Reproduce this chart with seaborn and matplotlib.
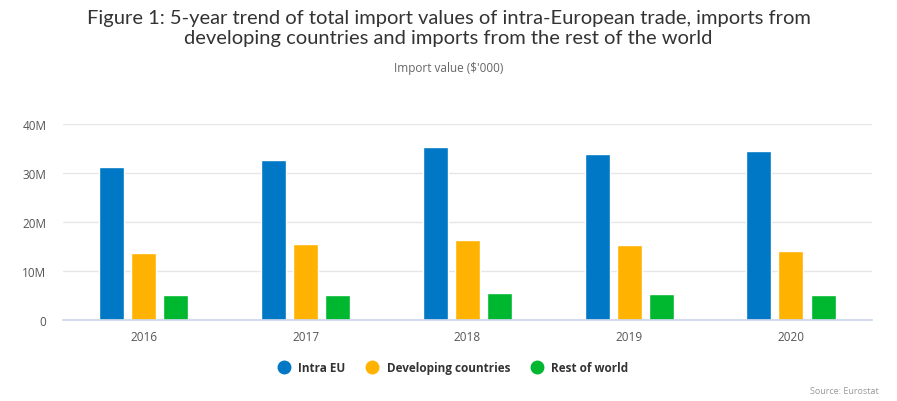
import pandas as pd
import matplotlib.pyplot as plt
import seaborn as sns
from matplotlib.ticker import FuncFormatter
from matplotlib.lines import Line2D

# === Data (in $'000) ===
years = ["2016", "2017", "2018", "2019", "2020"]
intra_eu = [31.2e6, 32.7e6, 35.3e6, 33.9e6, 34.5e6]
developing = [13.6e6, 15.5e6, 16.3e6, 15.3e6, 14.0e6]
rest_of_world = [5.05e6, 5.1e6, 5.5e6, 5.3e6, 5.05e6]

series_names = ["Intra EU", "Developing countries", "Rest of world"]
colors = ["#0078C5", "#FFB300", "#00B830"]

df = pd.DataFrame({
    "Year": years * 3,
    "Series": [series_names[0]] * 5 + [series_names[1]] * 5 + [series_names[2]] * 5,
    "Value": intra_eu + developing + rest_of_world,
})

sns.set_theme(style="white")
plt.rcParams["font.family"] = ["Open Sans", "DejaVu Sans"]

fig = plt.figure(figsize=(8.97, 4.02), dpi=100)
ax = fig.add_axes([0.0702, 0.2015, 0.9018, 0.4875])

sns.barplot(
    data=df, x="Year", y="Value", hue="Series",
    palette=colors, width=0.594, gap=0.22,
    saturation=1, ax=ax, legend=False,
)

ax.set_ylim(0, 40e6)
ax.set_xlim(-0.5, 4.5)
ax.set_yticks([0, 10e6, 20e6, 30e6, 40e6])
ax.yaxis.set_major_formatter(FuncFormatter(lambda v, p: "0" if v == 0 else f"{int(v / 1e6)}M"))
ax.grid(axis="y", color="#e6e6e6", linewidth=1)
ax.set_axisbelow(True)
for side in ["top", "right", "left"]:
    ax.spines[side].set_visible(False)
ax.spines["bottom"].set_color("#ccd6eb")
ax.tick_params(axis="both", length=0, labelsize=8.5, colors="#555555")
ax.tick_params(axis="y", pad=12)
ax.tick_params(axis="x", pad=7)
ax.set_xlabel("")
ax.set_ylabel("")

# === Titles ===
fig.text(0.5, 0.928, "Figure 1: 5-year trend of total import values of intra-European trade, imports from\n"
         "developing countries and imports from the rest of the world",
         ha="center", va="center", fontsize=14.5, color="#333333", linespacing=1.22,
         family=["Lato", "DejaVu Sans"])
fig.text(0.5, 0.83, "Import value ($'000)", ha="center", va="center", fontsize=8.5, color="#666666")

# === Legend ===
handles = [Line2D([0], [0], marker="o", linestyle="", markersize=9,
                  markerfacecolor=c, markeredgecolor=c) for c in colors]
leg = fig.legend(handles, series_names, loc="center", bbox_to_anchor=(0.502, 0.083),
                 ncol=3, frameon=False, handletextpad=0.2, columnspacing=1.3,
                 prop={"size": 8.5, "weight": "bold"})
for t in leg.get_texts():
    t.set_color("#333333")

fig.text(0.98, 0.027, "Source: Eurostat", ha="right", va="center", fontsize=6.5, color="#999999")

plt.savefig("out.png", dpi=100)
